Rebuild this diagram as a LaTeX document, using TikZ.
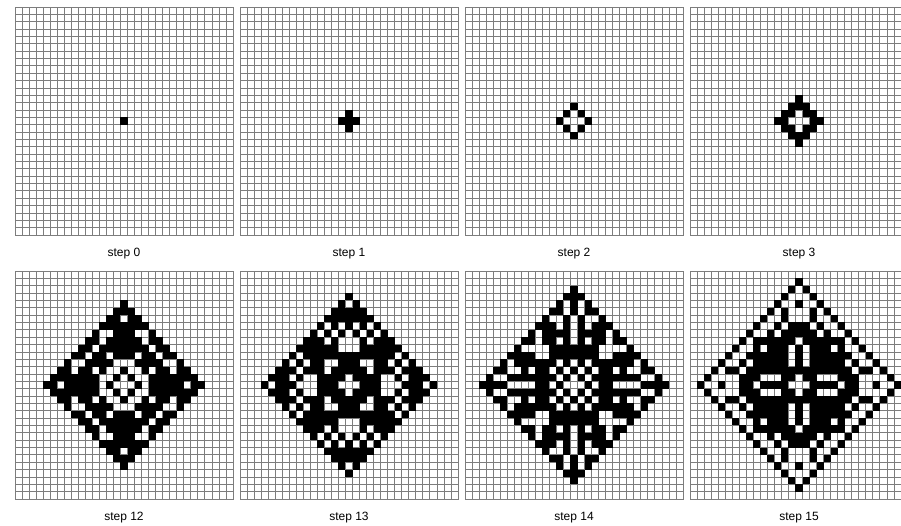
\documentclass[tikz,border=0pt]{standalone}
\usepackage{fontspec}
\setmainfont{Liberation Sans}
\definecolor{gridgray}{RGB}{125,125,125}

% cellular automaton on a 31x31 board, von Neumann neighbours
\newcount\ix \newcount\iy \newcount\nb
\def\initcells{\global\iy=0 \initrow}
\def\initrow{\global\ix=0 \initcol \global\advance\iy1 \ifnum\iy<31 \expandafter\initrow\fi}
\def\initcol{\expandafter\gdef\csname g\the\ix:\the\iy\endcsname{0}\expandafter\gdef\csname h\the\ix:\the\iy\endcsname{0}\global\advance\ix1 \ifnum\ix<31 \expandafter\initcol\fi}
\def\calccells{\global\iy=1 \calcrow}
\def\calcrow{\global\ix=1 \calccol \global\advance\iy1 \ifnum\iy<30 \expandafter\calcrow\fi}
\def\calccol{%
  \global\nb=\numexpr\csname g\the\numexpr\ix-1\relax:\the\iy\endcsname
    +\csname g\the\numexpr\ix+1\relax:\the\iy\endcsname
    +\csname g\the\ix:\the\numexpr\iy-1\relax\endcsname
    +\csname g\the\ix:\the\numexpr\iy+1\relax\endcsname\relax
  \expandafter\xdef\csname h\the\ix:\the\iy\endcsname{\csname r\csname g\the\ix:\the\iy\endcsname\the\nb\endcsname}%
  \global\advance\ix1 \ifnum\ix<30 \expandafter\calccol\fi}
\def\copycells{\global\iy=1 \copyrow}
\def\copyrow{\global\ix=1 \copycol \global\advance\iy1 \ifnum\iy<30 \expandafter\copyrow\fi}
\def\copycol{\expandafter\xdef\csname g\the\ix:\the\iy\endcsname{\csname h\the\ix:\the\iy\endcsname}\global\advance\ix1 \ifnum\ix<30 \expandafter\copycol\fi}
\def\dosteps#1{\ifnum#1>0 \calccells\copycells\expandafter\dosteps\expandafter{\the\numexpr#1-1\relax}\fi}

% rule: r<state><neighbours>
\expandafter\def\csname r00\endcsname{0}
\expandafter\def\csname r10\endcsname{1}
\expandafter\def\csname r01\endcsname{1}
\expandafter\def\csname r11\endcsname{0}
\expandafter\def\csname r02\endcsname{1}
\expandafter\def\csname r12\endcsname{1}
\expandafter\def\csname r03\endcsname{0}
\expandafter\def\csname r13\endcsname{1}
\expandafter\def\csname r04\endcsname{1}
\expandafter\def\csname r14\endcsname{0}

% black cells
\def\fillcells{\global\iy=0 \fillrow}
\def\fillrow{\global\ix=0 \fillcol \global\advance\iy1 \ifnum\iy<31 \expandafter\fillrow\fi}
\def\fillcol{\ifnum\csname g\the\ix:\the\iy\endcsname=1 \fill[black] (\the\ix,\the\iy) rectangle ++(1,1);\fi\global\advance\ix1 \ifnum\ix<31 \expandafter\fillcol\fi}

\tikzset{
  cellline/.style={draw=gridgray, line width=0.8pt},
  labeltext/.style={font=\fontsize{12}{14}\selectfont, inner sep=0pt}
}

% one board + its caption
\newcommand\drawpanel[4]{%
  \begin{scope}[shift={(#1,#2)}, x=7.0323pt, y=-7.3548pt]
    \foreach \k in {0,...,31} {
      \draw[cellline] (\k,0) -- (\k,31);
      \draw[cellline] (0,\k) -- (31,\k);
    }
    \fillcells
    \draw[cellline] (0,0) rectangle (31,31);
  \end{scope}
  \node[labeltext] (#3) at (#1+109,#2+247) {#4};}

\begin{document}
\begin{tikzpicture}[x=1pt, y=-1pt]
    \useasboundingbox (0,0) rectangle (901,525);
    \clip (0,0) rectangle (901,525);

    % start: one black cell in the middle
    \initcells
    \expandafter\gdef\csname g15:15\endcsname{1}

    % top row
    \drawpanel{15}{7}{s0}{step 0}
    \dosteps{1}
    \drawpanel{240}{7}{s1}{step 1}
    \dosteps{1}
    \drawpanel{465}{7}{s2}{step 2}
    \dosteps{1}
    \drawpanel{690}{7}{s3}{step 3}

    % bottom row
    \dosteps{8}
    \drawpanel{15}{271}{s12}{step 12}
    \dosteps{1}
    \drawpanel{240}{271}{s13}{step 13}
    \dosteps{1}
    \drawpanel{465}{271}{s14}{step 14}
    \dosteps{1}
    \drawpanel{690}{271}{s15}{step 15}
\end{tikzpicture}
\end{document}
